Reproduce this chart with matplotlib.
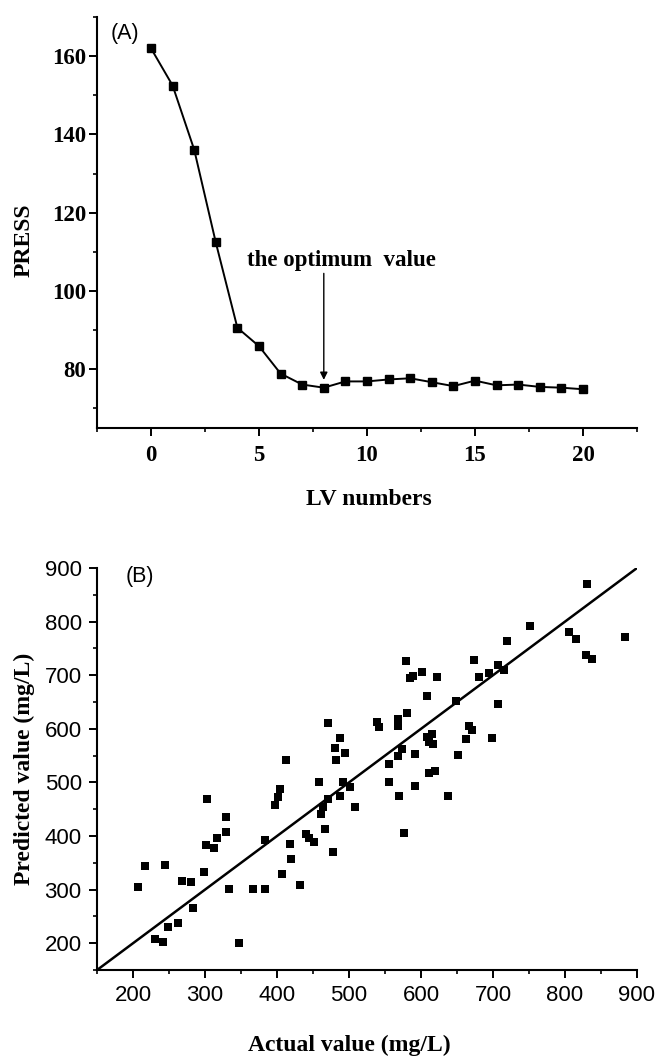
import matplotlib
matplotlib.use("Agg")
import matplotlib.pyplot as plt
from matplotlib.ticker import MultipleLocator

# (A) cross-validation PRESS against number of latent variables
lv_numbers = list(range(0, 21))
press = [162.0, 152.5, 136.1, 112.4, 90.6, 85.9, 78.9, 76.1, 75.3, 76.9, 76.9,
         77.4, 77.7, 76.7, 75.7, 77.1, 75.9, 76.1, 75.5, 75.3, 74.9]
optimum_lv = 8

# (B) predicted vs actual concentrations (mg/L)
actual = [830, 752, 806, 815, 884, 829, 838, 720, 579, 673, 585, 589, 602, 622,
          608, 649, 680, 695, 707, 715, 707, 580,
          207, 216, 245, 268, 280, 298, 303, 301, 312, 316, 329, 329, 333, 367,
          384, 384, 397, 401, 404, 413, 407, 418, 419, 432, 440, 444, 451, 458,
          461, 464, 467, 471, 471, 478, 482, 481, 488, 494, 487, 492, 501, 509,
          539, 541, 556, 556, 568, 568, 568, 574, 569, 577, 591, 591, 608, 611,
          615, 616, 611, 619, 651, 637, 663, 667, 671, 699,
          283, 262, 248, 231, 241, 347]
predicted = [870, 792, 780, 767, 772, 737, 731, 764, 727, 728, 695, 699, 706, 697,
             661, 652, 696, 704, 719, 709, 646, 629,
             304, 345, 346, 317, 315, 332, 470, 384, 378, 396, 435, 407, 302, 302,
             302, 392, 458, 472, 488, 542, 330, 386, 357, 309, 404, 396, 388, 500,
             441, 454, 413, 469, 610, 371, 542, 564, 583, 555, 475, 500, 492, 454,
             613, 603, 535, 500, 619, 606, 550, 563, 474, 405, 553, 494, 584, 575,
             591, 572, 518, 521, 551, 475, 581, 606, 598, 583,
             265, 238, 231, 207, 202, 200]
ideal_range = [150, 900]

SERIF = "Liberation Serif"
SANS = "Liberation Sans"

fig = plt.figure(figsize=(6.59, 10.56), dpi=100)
fig.patch.set_facecolor("white")

ax_a = fig.add_axes([0.1472, 0.5947, 0.8194, 0.3892])
ax_b = fig.add_axes([0.1472, 0.0814, 0.8194, 0.3807])

for ax in (ax_a, ax_b):
    ax.spines["top"].set_visible(False)
    ax.spines["right"].set_visible(False)
    for s in ("left", "bottom"):
        ax.spines[s].set_linewidth(1.5)
    ax.tick_params(which="major", direction="out", length=6, width=1.4)
    ax.tick_params(which="minor", direction="out", length=3, width=1.2)

# ---- panel A ----
ax_a.plot(lv_numbers, press, color="black", lw=1.4, marker="s", markersize=6,
          markerfacecolor="black", markeredgecolor="black")
ax_a.set_xlim(-2.5, 22.5)
ax_a.set_ylim(65, 170)
ax_a.xaxis.set_major_locator(MultipleLocator(5))
ax_a.xaxis.set_minor_locator(MultipleLocator(2.5))
ax_a.yaxis.set_major_locator(MultipleLocator(20))
ax_a.yaxis.set_minor_locator(MultipleLocator(10))
ax_a.tick_params(axis="x", pad=6)
ax_a.tick_params(axis="y", pad=2)
for lab in ax_a.get_xticklabels() + ax_a.get_yticklabels():
    lab.set_fontfamily(SERIF)
    lab.set_fontweight("bold")
    lab.set_fontsize(16.5)
ax_a.set_xlabel("LV numbers", fontfamily=SERIF, fontweight="bold", fontsize=17)
ax_a.set_ylabel("PRESS", fontfamily=SERIF, fontweight="bold", fontsize=17)
ax_a.xaxis.set_label_coords(0.503, -0.148)
ax_a.yaxis.set_label_coords(-0.115, 0.457)
ax_a.text(0.052, 0.961, "(A)", transform=ax_a.transAxes, ha="center", va="center",
          fontfamily=SANS, fontsize=15.5)
ax_a.annotate("", xy=(optimum_lv, press[optimum_lv] + 2.0),
              xytext=(optimum_lv, 104.5),
              arrowprops=dict(arrowstyle="-|>", color="black", lw=1.0,
                              mutation_scale=11, shrinkA=0, shrinkB=0))
ax_a.text(8.8, 107.7, "the optimum  value", ha="center", va="center",
          fontfamily=SERIF, fontweight="bold", fontsize=16.5)

# ---- panel B ----
ax_b.plot(ideal_range, ideal_range, color="black", lw=1.8, zorder=2)
ax_b.scatter(actual, predicted, marker="s", s=31, color="black", linewidths=0,
             zorder=3)
ax_b.set_xlim(150, 900)
ax_b.set_ylim(150, 900)
ax_b.xaxis.set_major_locator(MultipleLocator(100))
ax_b.xaxis.set_minor_locator(MultipleLocator(50))
ax_b.yaxis.set_major_locator(MultipleLocator(100))
ax_b.yaxis.set_minor_locator(MultipleLocator(50))
ax_b.tick_params(axis="both", pad=5)
for lab in ax_b.get_xticklabels() + ax_b.get_yticklabels():
    lab.set_fontfamily(SANS)
    lab.set_fontsize(16)
ax_b.set_xlabel("Actual value (mg/L)", fontfamily=SERIF, fontweight="bold", fontsize=17)
ax_b.set_ylabel("Predicted value (mg/L)", fontfamily=SERIF, fontweight="bold", fontsize=17)
ax_b.xaxis.set_label_coords(0.467, -0.160)
ax_b.yaxis.set_label_coords(-0.115, 0.5)
ax_b.text(0.08, 0.978, "(B)", transform=ax_b.transAxes, ha="center", va="center",
          fontfamily=SANS, fontsize=15.5)

fig.savefig("out.png", dpi=100, facecolor="white")
